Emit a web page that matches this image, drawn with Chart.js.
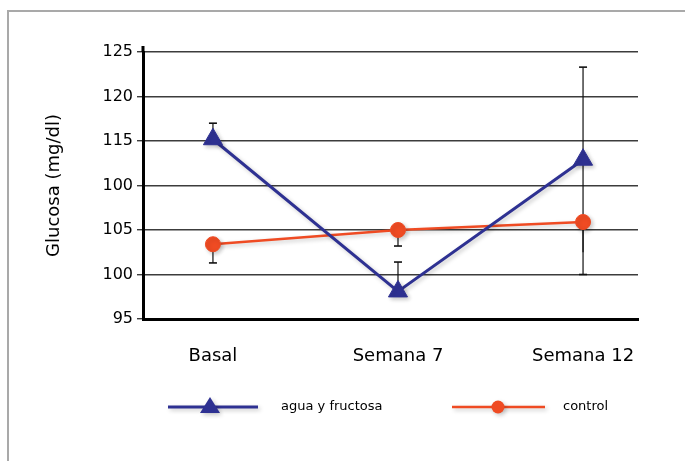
<!DOCTYPE html>
<html>
<head>
<meta charset="utf-8">
<script src="https://cdn.jsdelivr.net/npm/chart.js@4/dist/chart.umd.min.js"></script>
<style>
  html, body { margin: 0; padding: 0; background: #fff; }
  #wrap { position: relative; width: 685px; height: 461px; overflow: hidden; }
  #frame { position: absolute; left: 7px; top: 10px; right: -4px; bottom: -4px;
           border-top: 2px solid #a9a9a9; border-left: 2px solid #a9a9a9; }
  canvas { position: absolute; left: 0; top: 0; }
</style>
</head>
<body>
<div id="wrap">
  <div id="frame"></div>
  <canvas id="chart" width="685" height="461"></canvas>
</div>
<script>
// Glucose by time point, two groups
const categories = ['Basal', 'Semana 7', 'Semana 12'];
const yTickValues = [95, 100, 105, 110, 115, 120, 125];
const yTickLabels = ['95', '100', '105', '100', '115', '120', '125'];

const aguaValues = [115.2, 98.1, 112.9];
const aguaErrPlus = [1.8, 3.3, 10.4];
const aguaErrMinus = [0, 0, 10.4];

const controlValues = [103.4, 105.0, 105.9];
const controlErrPlus = [0, 0, 0];
const controlErrMinus = [2.1, 1.8, 5.9];

const BLUE = '#2E3192';
const ORANGE = '#EF4B23';
const FONT = '"DejaVu Sans", "Liberation Sans", sans-serif';

const toPoints = vals => vals.map((v, i) => ({ x: i, y: v }));

// per-series error bars; caps only on the drawn side of each series
const errors = [
  { plus: aguaErrPlus, minus: aguaErrMinus, capTop: true, capBottom: false },
  { plus: controlErrPlus, minus: controlErrMinus, capTop: false, capBottom: true }
];

// Error bars behind the markers, then a soft drop shadow for lines and markers
const errorBarsAndShadow = {
  id: 'errorBarsAndShadow',
  beforeDatasetsDraw(chart) {
    const { ctx, chartArea: a, scales: { y } } = chart;
    ctx.save();
    ctx.beginPath();
    ctx.rect(a.left, a.top - 20, a.right - a.left, a.bottom - a.top + 20);
    ctx.clip();
    ctx.strokeStyle = '#111';
    chart.data.datasets.forEach((ds, di) => {
      const meta = chart.getDatasetMeta(di);
      const e = errors[di];
      ds.data.forEach((p, i) => {
        const px = meta.data[i].x;
        const up = e.plus[i], dn = e.minus[i];
        const yTop = y.getPixelForValue(p.y + up);
        const yBot = y.getPixelForValue(p.y - dn);
        ctx.lineWidth = 1.2;
        ctx.beginPath();
        ctx.moveTo(px, yTop);
        ctx.lineTo(px, yBot);
        ctx.stroke();
        ctx.lineWidth = 1.6;
        if (up > 0 && e.capTop) { ctx.beginPath(); ctx.moveTo(px - 4, yTop); ctx.lineTo(px + 4, yTop); ctx.stroke(); }
        if (dn > 0 && e.capBottom) { ctx.beginPath(); ctx.moveTo(px - 4, yBot); ctx.lineTo(px + 4, yBot); ctx.stroke(); }
      });
    });
    ctx.restore();
    ctx.save();
    ctx.shadowColor = 'rgba(0,0,0,0.22)';
    ctx.shadowOffsetX = 2;
    ctx.shadowOffsetY = 2;
    ctx.shadowBlur = 4;
  },
  afterDatasetsDraw(chart) {
    chart.ctx.restore();
  },
  afterDraw(chart) {
    const { ctx, chartArea: a } = chart;
    // small extension of the vertical axis above the top grid line
    ctx.save();
    ctx.strokeStyle = '#000';
    ctx.lineWidth = 3;
    ctx.beginPath();
    ctx.moveTo(a.left, a.top - 6);
    ctx.lineTo(a.left, a.top);
    ctx.stroke();
    ctx.restore();

    // legend below the axis
    const ly = 407;
    ctx.save();
    ctx.shadowColor = 'rgba(0,0,0,0.22)';
    ctx.shadowOffsetX = 2;
    ctx.shadowOffsetY = 2;
    ctx.shadowBlur = 4;
    ctx.strokeStyle = BLUE; ctx.fillStyle = BLUE; ctx.lineWidth = 3;
    ctx.beginPath(); ctx.moveTo(168, ly); ctx.lineTo(258, ly); ctx.stroke();
    ctx.beginPath();
    ctx.moveTo(210, ly - 10); ctx.lineTo(220, ly + 6); ctx.lineTo(200, ly + 6); ctx.closePath(); ctx.fill();
    ctx.strokeStyle = ORANGE; ctx.fillStyle = ORANGE; ctx.lineWidth = 2.5;
    ctx.beginPath(); ctx.moveTo(452, ly); ctx.lineTo(545, ly); ctx.stroke();
    ctx.beginPath(); ctx.arc(498, ly, 6.5, 0, Math.PI * 2); ctx.fill();
    ctx.restore();

    ctx.save();
    ctx.fillStyle = '#000';
    ctx.font = '13px ' + FONT;
    ctx.textBaseline = 'middle';
    ctx.textAlign = 'left';
    ctx.fillText(chart.data.datasets[0].label, 281, ly);
    ctx.fillText(chart.data.datasets[1].label, 563, ly);
    ctx.restore();
  }
};

new Chart(document.getElementById('chart'), {
  type: 'line',
  data: {
    datasets: [
      {
        label: 'agua y fructosa',
        data: toPoints(aguaValues),
        borderColor: BLUE,
        backgroundColor: BLUE,
        borderWidth: 3,
        pointStyle: 'triangle',
        pointRadius: 11,
        pointBorderWidth: 1,
        pointBackgroundColor: BLUE,
        pointBorderColor: BLUE,
        tension: 0
      },
      {
        label: 'control',
        data: toPoints(controlValues),
        borderColor: ORANGE,
        backgroundColor: ORANGE,
        borderWidth: 2.5,
        pointStyle: 'circle',
        pointRadius: 7.5,
        pointBorderWidth: 1,
        pointBackgroundColor: ORANGE,
        pointBorderColor: ORANGE,
        tension: 0
      }
    ]
  },
  options: {
    responsive: false,
    animation: false,
    devicePixelRatio: 1,
    layout: { padding: { top: 52, right: 47, left: 0, bottom: 0 } },
    plugins: {
      legend: { display: false },
      tooltip: { enabled: false }
    },
    scales: {
      x: {
        type: 'linear',
        min: -0.378,
        max: 2.297,
        afterBuildTicks: s => { s.ticks = categories.map((_, i) => ({ value: i })); },
        afterFit: s => { s.height = 142; },
        grid: { display: false, drawTicks: false },
        border: { display: true, color: '#000', width: 3 },
        ticks: {
          padding: 27,
          color: '#000',
          font: { size: 18, family: FONT },
          maxRotation: 0,
          autoSkip: false,
          callback: v => categories[v] ?? ''
        }
      },
      y: {
        min: 95,
        max: 125,
        afterBuildTicks: s => { s.ticks = yTickValues.map(v => ({ value: v })); },
        afterFit: s => { s.width = 143; },
        grid: { color: '#3c3c3c', lineWidth: 1.4, tickLength: 6, drawTicks: true },
        border: { display: true, color: '#000', width: 3 },
        ticks: {
          padding: 4,
          color: '#000',
          font: { size: 16, family: FONT },
          callback: (v, i) => yTickLabels[i]
        },
        title: {
          display: true,
          text: 'Glucosa (mg/dl)',
          color: '#000',
          font: { size: 18, family: FONT },
          padding: { top: 44, bottom: 0 }
        }
      }
    }
  },
  plugins: [errorBarsAndShadow]
});
</script>
</body>
</html>
